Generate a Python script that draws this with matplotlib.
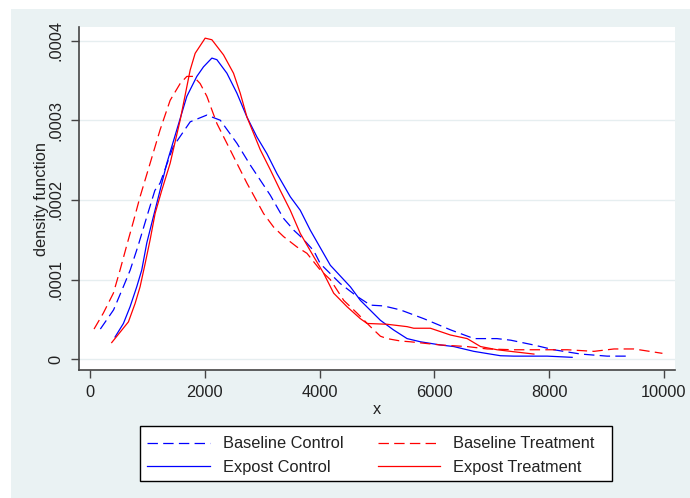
import matplotlib
matplotlib.use("Agg")
import matplotlib.pyplot as plt
from matplotlib.patches import Rectangle

plt.rcParams['font.family'] = ['Liberation Sans', 'DejaVu Sans']
plt.rcParams['lines.scale_dashes'] = False

# ---- data ----
bc_x = [180, 410, 580, 700, 840, 990, 1130, 1220, 1450, 1745, 2036, 2270, 2560, 2790,
        3140, 3370, 3550, 3700, 3900, 4012, 4361, 4652, 4885, 5117, 5408, 5815, 6280,
        6690, 7090, 7330, 7730, 8080, 8550, 9010, 9370]
bc_y = [3.8e-5, 6.2e-5, 9.1e-5, 1.12e-4, 1.43e-4, 1.79e-4, 2.12e-4, 2.21e-4, 2.67e-4,
        2.98e-4, 3.065e-4, 3.0e-4, 2.71e-4, 2.44e-4, 2.06e-4, 1.77e-4, 1.62e-4, 1.52e-4,
        1.36e-4, 1.2e-4, 9.5e-5, 7.9e-5, 6.8e-5, 6.7e-5, 6.2e-5, 5.1e-5, 3.7e-5, 2.6e-5,
        2.6e-5, 2.4e-5, 1.8e-5, 1.2e-5, 6.6e-6, 4e-6, 4e-6]

bt_x = [70, 232, 407, 523, 640, 756, 872, 1047, 1221, 1396, 1570, 1687, 1802, 1919, 2036,
        2210, 2385, 2559, 2734, 2849, 3023, 3198, 3372, 3605, 3780, 4012, 4187, 4420, 4652,
        4885, 5059, 5176, 5408, 5582, 6106, 6571, 6920, 7385, 7850, 8316, 8780, 9129,
        9478, 9973]
bt_y = [3.8e-5, 5.8e-5, 8.3e-5, 1.12e-4, 1.43e-4, 1.73e-4, 2.04e-4, 2.46e-4, 2.88e-4,
        3.25e-4, 3.46e-4, 3.55e-4, 3.55e-4, 3.46e-4, 3.3e-4, 2.96e-4, 2.71e-4, 2.46e-4,
        2.21e-4, 2.06e-4, 1.83e-4, 1.66e-4, 1.54e-4, 1.41e-4, 1.33e-4, 1.12e-4, 1.0e-4,
        7.4e-5, 5.8e-5, 4.1e-5, 2.9e-5, 2.6e-5, 2.3e-5, 2.2e-5, 1.8e-5, 1.6e-5, 1.3e-5,
        1.2e-5, 1.2e-5, 1.2e-5, 1.0e-5, 1.3e-5, 1.3e-5, 7.5e-6]

ec_x = [436, 582, 698, 814, 901, 989, 1076, 1192, 1338, 1512, 1687, 1861, 1977, 2123,
        2210, 2385, 2559, 2734, 2908, 3082, 3257, 3489, 3663, 3838, 4187, 4536, 4710,
        5059, 5286, 5524, 5757, 6106, 6338, 6687, 7152, 7385, 7967, 8400]
ec_y = [2.8e-5, 4.5e-5, 6.6e-5, 9.1e-5, 1.12e-4, 1.46e-4, 1.71e-4, 2.04e-4, 2.46e-4,
        2.88e-4, 3.3e-4, 3.55e-4, 3.67e-4, 3.78e-4, 3.76e-4, 3.59e-4, 3.34e-4, 3.04e-4,
        2.79e-4, 2.58e-4, 2.33e-4, 2.04e-4, 1.87e-4, 1.62e-4, 1.18e-4, 9.1e-5, 7.4e-5,
        4.9e-5, 3.7e-5, 2.6e-5, 2.2e-5, 1.8e-5, 1.6e-5, 1.0e-5, 4.5e-6, 4e-6, 4e-6, 2.5e-6]

et_x = [378, 669, 785, 872, 960, 1047, 1134, 1250, 1396, 1570, 1745, 1832, 2006, 2123,
        2326, 2500, 2617, 2734, 2966, 3140, 3314, 3489, 3663, 3896, 4070, 4245, 4478,
        4710, 4827, 5176, 5524, 5640, 5931, 6280, 6571, 6804, 7094, 7385, 7734]
et_y = [2.1e-5, 4.7e-5, 7.0e-5, 9.1e-5, 1.2e-4, 1.5e-4, 1.83e-4, 2.12e-4, 2.46e-4,
        3.0e-4, 3.63e-4, 3.84e-4, 4.03e-4, 4.01e-4, 3.82e-4, 3.59e-4, 3.34e-4, 3.04e-4,
        2.63e-4, 2.38e-4, 2.12e-4, 1.87e-4, 1.58e-4, 1.29e-4, 1.08e-4, 8.3e-5, 6.6e-5,
        5.1e-5, 4.5e-5, 4.4e-5, 4.1e-5, 3.9e-5, 3.9e-5, 3.05e-5, 2.6e-5, 1.6e-5, 1.2e-5,
        9.5e-6, 6.6e-6]

x_ticks = [0, 2000, 4000, 6000, 8000, 10000]
y_ticks = [0, 0.0001, 0.0002, 0.0003, 0.0004]
y_tick_labels = ["0", ".0001", ".0002", ".0003", ".0004"]
labels = ["Baseline Control", "Expost Control", "Baseline Treatment", "Expost Treatment"]

# ---- figure ----
W, H = 690, 498
fs = 11.8
fig = plt.figure(figsize=(W / 100, H / 100), dpi=100, facecolor="white")
bg = "#EAF2F3"
fig.patches.append(Rectangle((11 / W, 0), (W - 11) / W, (H - 9) / H,
                             transform=fig.transFigure, facecolor=bg,
                             edgecolor="none", zorder=-10))

ax = fig.add_axes([79 / W, (H - 370) / H, (675 - 79) / W, (370 - 27) / H])
ax.set_facecolor("white")

dash = (0, (7.5, 3.8))
lw = 0.9
l1, = ax.plot(bc_x, bc_y, color="#0000FF", lw=lw, linestyle=dash)
l2, = ax.plot(ec_x, ec_y, color="#0000FF", lw=lw)
l3, = ax.plot(bt_x, bt_y, color="#FF0000", lw=lw, linestyle=dash)
l4, = ax.plot(et_x, et_y, color="#FF0000", lw=lw)

ax.set_xlim(-192, 10192)
ax.set_ylim(-0.0000134, 0.000417)

ax.set_xticks(x_ticks)
ax.set_xticklabels([str(v) for v in x_ticks])
ax.set_yticks(y_ticks)
ax.set_yticklabels(y_tick_labels, rotation=90, va="center")

ax.grid(axis="y", color="#E6EEF0", lw=1.0)
ax.set_axisbelow(True)

for s in ["top", "right"]:
    ax.spines[s].set_visible(False)
for s in ["left", "bottom"]:
    ax.spines[s].set_color("#444444")
    ax.spines[s].set_linewidth(1.2)

ax.tick_params(axis="both", length=6, width=1.0, color="#444444",
               labelsize=fs, labelcolor="#222222", pad=5)

ax.set_xlabel("x", fontsize=fs, color="#222222", labelpad=1)
ax.set_ylabel("density function", fontsize=fs, color="#222222", labelpad=0)

# legend box (frame drawn as a rectangle, entries via legend)
lx0, ly0, lx1, ly1 = 140, 426, 612, 481
fig.patches.append(Rectangle((lx0 / W, (H - ly1) / H), (lx1 - lx0) / W, (ly1 - ly0) / H,
                             transform=fig.transFigure, facecolor="white",
                             edgecolor="black", lw=1.0, zorder=1))
leg = fig.legend([l1, l2, l3, l4], labels, ncol=2,
                 bbox_to_anchor=(lx0 / W, (H - ly0 - 3) / H),
                 loc="upper left", fontsize=fs, frameon=False,
                 handlelength=3.8, handletextpad=0.8, labelspacing=0.5,
                 borderpad=0.45, borderaxespad=0, columnspacing=2.1)
leg.set_zorder(2)
for t in leg.get_texts():
    t.set_color("#222222")

fig.savefig("out.png", dpi=100, facecolor="white")
